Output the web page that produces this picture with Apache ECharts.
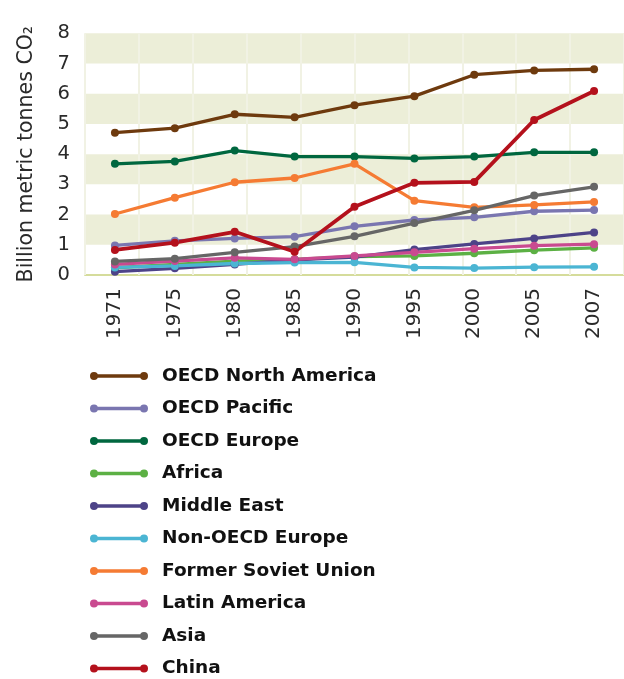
<!DOCTYPE html>
<html>
<head>
<meta charset="utf-8">
<script src="https://cdn.jsdelivr.net/npm/echarts@6/dist/echarts.min.js"></script>
<style>
html,body{margin:0;padding:0;background:#fff;}
#chart{width:624px;height:679px;}
</style>
</head>
<body>
<div id="chart"></div>
<script>
var years = ['1971','1975','1980','1985','1990','1995','2000','2005','2007'];
var yTicks = [0,1,2,3,4,5,6,7,8];

var oecdNorthAmerica = [4.71,4.86,5.32,5.22,5.62,5.92,6.63,6.77,6.81];
var oecdPacific      = [0.98,1.13,1.21,1.27,1.61,1.82,1.91,2.11,2.15];
var oecdEurope       = [3.68,3.76,4.12,3.92,3.92,3.86,3.92,4.06,4.06];
var africa           = [0.24,0.35,0.46,0.52,0.61,0.63,0.72,0.82,0.90];
var middleEast       = [0.11,0.22,0.35,0.50,0.59,0.84,1.03,1.21,1.41];
var nonOecdEurope    = [0.25,0.30,0.38,0.41,0.42,0.25,0.23,0.26,0.27];
var formerSovietUnion= [2.02,2.56,3.07,3.21,3.68,2.46,2.24,2.32,2.42];
var latinAmerica     = [0.35,0.46,0.57,0.52,0.63,0.75,0.87,0.97,1.02];
var asia             = [0.45,0.54,0.75,0.94,1.28,1.72,2.14,2.63,2.92];
var china            = [0.83,1.07,1.43,0.77,2.26,3.05,3.08,5.13,6.09];

var seriesNames = ['OECD North America','OECD Pacific','OECD Europe','Africa','Middle East','Non-OECD Europe','Former Soviet Union','Latin America','Asia','China'];
var seriesValues = [oecdNorthAmerica,oecdPacific,oecdEurope,africa,middleEast,nonOecdEurope,formerSovietUnion,latinAmerica,asia,china];
var seriesColors = ['#6e3a0e','#7a76b0','#00673f','#5cb044','#4d4388','#4bb5d3','#f57b33','#c94a90','#666666','#b4111c'];

var font = '"DejaVu Sans", sans-serif';
var iconPath = 'path://M0,4 a4,4 0 1,1 8,0 a4,4 0 1,1 -8,0 Z M50,4 a4,4 0 1,1 8,0 a4,4 0 1,1 -8,0 Z M4,2.2 L54,2.2 L54,5.8 L4,5.8 Z';

var chart = echarts.init(document.getElementById('chart'), null, {renderer:'canvas'});
var series = seriesNames.map(function(n,i){
  return {
    name:n, type:'line', xAxisIndex:0, yAxisIndex:0,
    data: seriesValues[i],
    symbol:'circle', symbolSize:8, showSymbol:true,
    lineStyle:{width: i===9 ? 3.8 : 3.3, color: seriesColors[i]},
    itemStyle:{color: seriesColors[i]},
    emphasis:{disabled:true},
    animation:false
  };
});

chart.setOption({
  backgroundColor:'#ffffff',
  animation:false,
  textStyle:{fontFamily:font},
  grid:{left:85, right:-8, top:33.3, bottom:404, containLabel:false},
  legend:{
    orient:'vertical', left:85, top:360.5, height:320,
    icon: iconPath,
    itemWidth:58, itemHeight:8, itemGap:11.5,
    data: seriesNames,
    textStyle:{fontSize:18.5, fontFamily:font, fontWeight:'bold', color:'#111', lineHeight:21, padding:[0,0,0,9]},
    selectedMode:false
  },
  xAxis:[{
    type:'category', data:years, boundaryGap:true,
    axisLine:{show:true, lineStyle:{color:'#d5dc9b', width:2}},
    axisTick:{show:false},
    axisLabel:{rotate:90, fontSize:20, color:'#2a2a2a', margin:13, fontFamily:font},
    splitLine:{show:false}
  },{
    type:'value', min:0, max:10, interval:1, position:'bottom', z:3,
    axisLine:{show:false}, axisTick:{show:false}, axisLabel:{show:false},
    splitLine:{show:true, lineStyle:{color:'#f1f2e4', width:2}}
  }],
  yAxis:{
    type:'value', min:0, max:8, interval:1,
    name:'Billion metric tonnes CO\u2082', nameLocation:'middle', nameGap:48,
    nameTextStyle:{fontSize:20.5, color:'#2a2a2a', fontFamily:font},
    axisLine:{show:false}, axisTick:{show:false},
    axisLabel:{fontSize:19.5, color:'#2a2a2a', margin:15, fontFamily:font,
      formatter:function(v){return yTicks.indexOf(v)>=0 ? String(v) : '';}},
    splitLine:{show:false},
    splitArea:{show:true, areaStyle:{color:['rgba(255,255,255,0)','#eceed8']}}
  },
  series: series
});
</script>
</body>
</html>
